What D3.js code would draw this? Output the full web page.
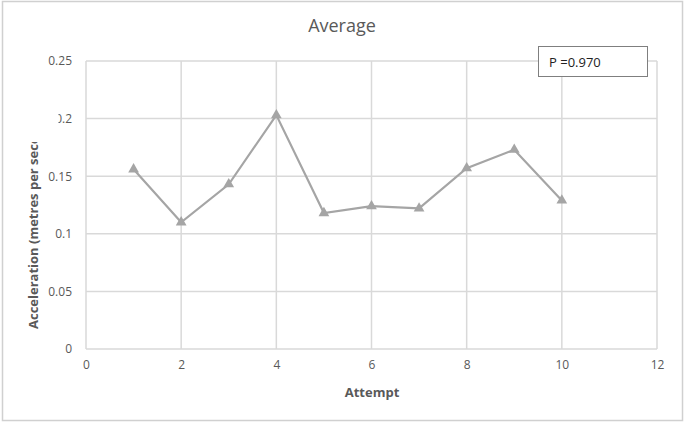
<!DOCTYPE html>
<html><head><meta charset="utf-8">
<script src="https://cdn.jsdelivr.net/npm/d3@7"></script>
<style>body{margin:0;background:#fff;}svg{display:block;font-family:"Open Sans",sans-serif;}</style>
</head><body>
<svg id="c" width="685" height="424"></svg>
<script>
const attempts = [1,2,3,4,5,6,7,8,9,10];
const averages = [0.156,0.110,0.143,0.203,0.118,0.124,0.122,0.157,0.173,0.129];
const xTicks = [0,2,4,6,8,10,12];
const yTicks = [0,0.05,0.1,0.15,0.2,0.25];
const title = "Average";
const xTitle = "Attempt";
const yTitle = "Acceleration (metres per second squared)";
const note = "P =0.970";

const svg = d3.select("#c");
const grey = "#595959";
const ff = "'Open Sans',sans-serif";
svg.append("rect").attr("x",2.5).attr("y",1.5).attr("width",680).attr("height",419)
  .attr("fill","#fff").attr("stroke","#d0d0d0").attr("stroke-width",1.5);

const x = d3.scaleLinear().domain([0,12]).range([86,657]);
const y = d3.scaleLinear().domain([0,0.25]).range([349,61]);

// grid
svg.append("g").selectAll("line").data(yTicks).join("line")
  .attr("x1",x(0)).attr("x2",x(12)).attr("y1",d=>y(d)).attr("y2",d=>y(d))
  .attr("stroke","#d9d9d9").attr("stroke-width",1.5);
svg.append("g").selectAll("line").data(xTicks).join("line")
  .attr("y1",y(0)).attr("y2",y(0.25)).attr("x1",d=>x(d)).attr("x2",d=>x(d))
  .attr("stroke","#d9d9d9").attr("stroke-width",1.5);

// axes via d3
const xa = svg.append("g").attr("transform",`translate(0,${y(0)})`)
  .call(d3.axisBottom(x).tickValues(xTicks).tickSize(0).tickPadding(11).tickFormat(d3.format("d")));
xa.select(".domain").remove();
xa.selectAll("text").attr("fill",grey).attr("font-size",12).attr("font-family",ff);
const ya = svg.append("g").attr("transform",`translate(${x(0)},0)`)
  .call(d3.axisLeft(y).tickValues(yTicks).tickSize(0).tickPadding(14).tickFormat(d=>String(d)));
ya.select(".domain").remove();
ya.selectAll("text").attr("fill",grey).attr("font-size",12).attr("font-family",ff);

// line
svg.append("path").datum(attempts.map((a,i)=>[a,averages[i]]))
  .attr("d",d3.line().x(d=>x(d[0])).y(d=>y(d[1])))
  .attr("fill","none").attr("stroke","#a5a5a5").attr("stroke-width",2.2);
svg.append("g").selectAll("path").data(attempts.map((a,i)=>[a,averages[i]])).join("path")
  .attr("transform",d=>`translate(${x(d[0])},${y(d[1])})`)
  .attr("d",d3.symbol(d3.symbolTriangle,50))
  .attr("fill","#a5a5a5");

// title
svg.append("text").attr("x",342).attr("y",32).attr("text-anchor","middle")
  .attr("font-size",18).attr("fill",grey).attr("font-family",ff).text(title);
svg.append("text").attr("x",372).attr("y",397).attr("text-anchor","middle")
  .attr("font-size",13).attr("font-weight","bold").attr("fill",grey).attr("font-family",ff).text(xTitle);

// y title, clipped
const defs = svg.append("defs");
defs.append("clipPath").attr("id","yc").append("rect").attr("x",15).attr("y",142).attr("width",45).attr("height",200);
svg.append("rect").attr("x",20).attr("y",105).attr("width",38.5).attr("height",25).attr("fill","#fff");
svg.append("g").attr("clip-path","url(#yc)").append("text")
  .attr("transform","translate(38,329) rotate(-90)").attr("text-anchor","start")
  .attr("font-size",13).attr("font-weight","bold").attr("fill",grey).attr("font-family",ff).text(yTitle);

// note box
svg.append("rect").attr("x",538.5).attr("y",46.5).attr("width",109).attr("height",30)
  .attr("fill","#fff").attr("stroke","#7f7f7f").attr("stroke-width",1);
svg.append("text").attr("x",549).attr("y",67).attr("font-size",13).attr("fill","#222").attr("font-family",ff).text(note);
</script>
</body></html>
